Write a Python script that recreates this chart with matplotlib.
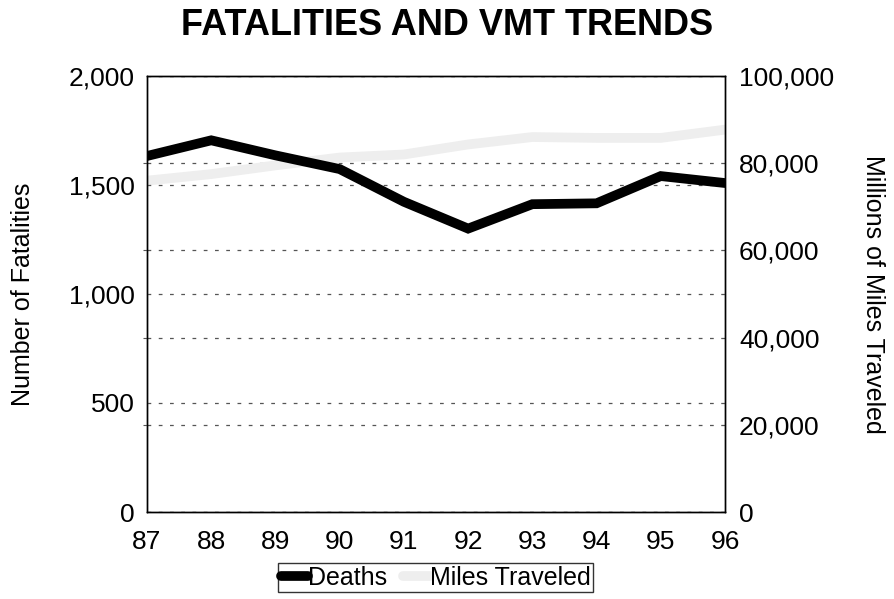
import matplotlib.pyplot as plt
from matplotlib.ticker import FuncFormatter

plt.rcParams['font.family'] = ['Liberation Sans', 'DejaVu Sans']

years = [87, 88, 89, 90, 91, 92, 93, 94, 95, 96]
year_labels = ["87", "88", "89", "90", "91", "92", "93", "94", "95", "96"]
deaths = [1633, 1705, 1636, 1573, 1423, 1300, 1412, 1416, 1541, 1509]
miles = [76000, 77500, 79500, 81300, 82000, 84300, 86000, 85800, 85800, 87700]

comma = FuncFormatter(lambda v, p: f"{int(v):,}")

fig = plt.figure(figsize=(8.95, 5.99), dpi=100)
# plot box: x 147..725 px, y 76..512 px
ax = fig.add_axes([147 / 895, 87 / 599, 578 / 895, 436 / 599])
ax2 = ax.twinx()

# dotted gridlines from both axes
for a in (ax, ax2):
    a.yaxis.grid(True, linestyle=(0, (3, 6)), color="#555555", linewidth=0.9)
    a.set_axisbelow(True)

l1, = ax.plot(years, deaths, color="black", lw=7, solid_capstyle="round",
              solid_joinstyle="miter", zorder=3, label="Deaths")
l2, = ax2.plot(years, miles, color="#eeeeee", lw=7, solid_capstyle="round",
               zorder=2, label="Miles Traveled")
ax.set_zorder(ax2.get_zorder() + 1)
ax.patch.set_visible(False)

ax.set_xlim(87, 96)
ax.set_xticks(years)
ax.set_xticklabels(year_labels)
ax.set_ylim(0, 2000)
ax.set_yticks([0, 500, 1000, 1500, 2000])
ax.set_yticks([400, 800, 1200, 1600], minor=True)
ax.yaxis.set_major_formatter(comma)
ax2.set_ylim(0, 100000)
ax2.set_yticks([0, 20000, 40000, 60000, 80000, 100000])
ax2.yaxis.set_major_formatter(comma)

ax.tick_params(axis="both", which="major", labelsize=19, length=0)
ax.tick_params(axis="y", which="major", pad=9)
ax.tick_params(axis="y", which="minor", length=3, width=0.8, color="#555555")
ax.tick_params(axis="x", pad=13)
ax2.tick_params(axis="y", labelsize=19, length=0, pad=10)
for a in (ax, ax2):
    for s in a.spines.values():
        s.set_linewidth(1.0)
        s.set_color("black")

ax.set_ylabel("Number of Fatalities", fontsize=18, labelpad=24)
ax2.set_ylabel("Millions of Miles Traveled", fontsize=18, rotation=270,
               labelpad=37)

fig.text(0.5, 0.957, "FATALITIES AND VMT TRENDS", ha="center", va="center",
         fontsize=26, fontweight="bold")

leg = fig.legend(handles=[l1, l2], loc="upper center",
                 bbox_to_anchor=(0.487, 0.06), ncol=2, fontsize=18,
                 frameon=True, fancybox=False, edgecolor="black",
                 handlelength=1.1, handletextpad=0.0, columnspacing=0.6,
                 borderpad=0.1, borderaxespad=0.0)
leg.get_frame().set_linewidth(1.0)

fig.savefig("out.png", dpi=100)
